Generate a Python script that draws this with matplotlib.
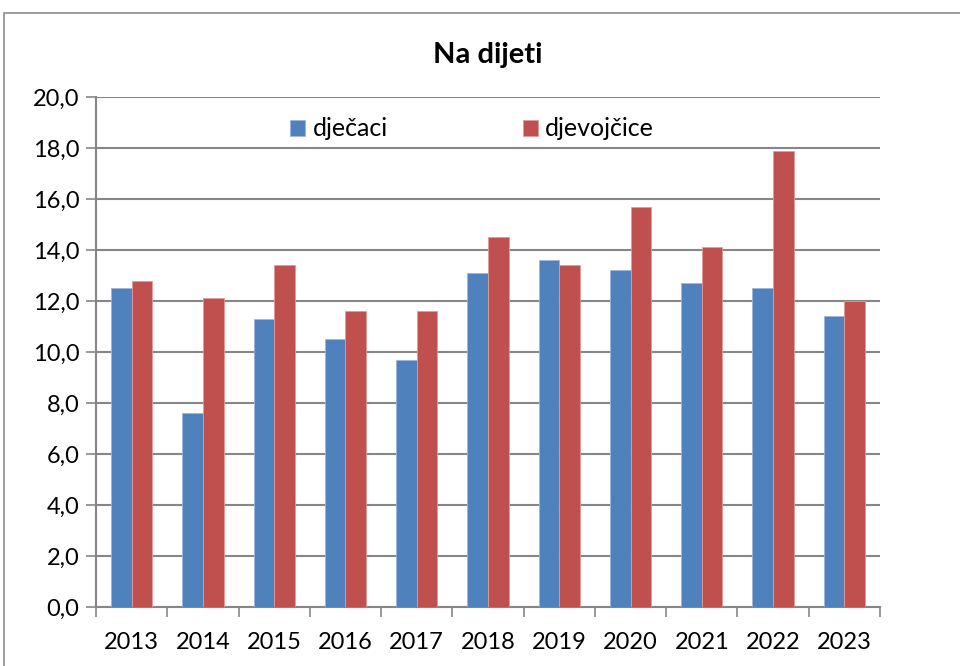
import numpy as np
import matplotlib
matplotlib.use('Agg')
import matplotlib.pyplot as plt
from matplotlib.patches import Rectangle

# data
years = ['2013', '2014', '2015', '2016', '2017', '2018', '2019', '2020', '2021', '2022', '2023']
djecaci = [12.5, 7.6, 11.3, 10.5, 9.7, 13.1, 13.6, 13.2, 12.7, 12.5, 11.4]
djevojcice = [12.8, 12.1, 13.4, 11.6, 11.6, 14.5, 13.4, 15.7, 14.1, 17.9, 12.0]
yticks = [0, 2, 4, 6, 8, 10, 12, 14, 16, 18, 20]

plt.rcParams['font.family'] = ['Lato', 'DejaVu Sans']

fig = plt.figure(figsize=[9.6, 6.66], dpi=100)
ax = fig.add_axes([96/960, 1-607/666, 784/960, 510/666])

# outer chart border (cropped on right and bottom)
fig.patches.append(Rectangle((4/960, -0.1), 2.0, 1-13/666+0.1, transform=fig.transFigure,
                             fill=False, edgecolor='#8c8c8c', linewidth=1.2))

x = np.arange(len(years))
w = 0.29
ax.bar(x - w/2, djecaci, w, color='#4F81BD', edgecolor='#9db7dc', linewidth=0.6, label='dječaci', zorder=3)
ax.bar(x + w/2, djevojcice, w, color='#C0504D', edgecolor='#e09a98', linewidth=0.6, label='djevojčice', zorder=3)

ax.set_xlim(-0.5, len(years) - 0.5)
ax.set_ylim(0, 20)
ax.set_yticks(yticks)
ax.set_yticklabels([('%.1f' % v).replace('.', ',') for v in yticks], fontsize=17)
ax.yaxis.grid(True, color='#868686', linewidth=1.5, zorder=0)
ax.set_axisbelow(True)

ax.set_xticks(x)
ax.set_xticklabels(years, fontsize=17)
ax.set_xticks(np.arange(len(years) + 1) - 0.5, minor=True)
ax.tick_params(axis='x', which='major', length=0, pad=18)
ax.tick_params(axis='x', which='minor', length=7, color='#868686', width=1.2)
ax.tick_params(axis='y', length=7, color='#868686', width=1.2, pad=5)

for s in ['top', 'right']:
    ax.spines[s].set_visible(False)
for s in ['left', 'bottom']:
    ax.spines[s].set_color('#868686')
    ax.spines[s].set_linewidth(1.5)

fig.text(488/960, 1-55/666, 'Na dijeti', fontsize=21, fontweight='bold', ha='center', va='center')

ax.legend(loc='center', bbox_to_anchor=(472/960, 1-129/666), bbox_transform=fig.transFigure,
          ncol=2, frameon=False, fontsize=18, handlelength=0.6, handleheight=0.6,
          handletextpad=0.3, columnspacing=5.4)

fig.savefig('out.png', dpi=100)
